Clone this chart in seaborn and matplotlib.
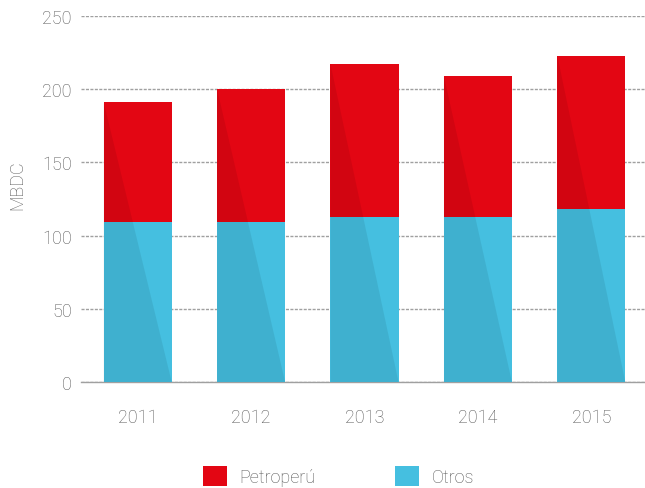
import matplotlib
matplotlib.use("Agg")
import matplotlib.pyplot as plt
import seaborn as sns
import pandas as pd
from matplotlib.patches import Patch, Polygon
from matplotlib.ticker import FixedLocator

years = ["2011", "2012", "2013", "2014", "2015"]
otros = [109, 109, 113, 113, 118]
petroperu = [82, 91, 104, 96, 105]
series_names = ["Petroperú", "Otros"]
y_ticks = [0, 50, 100, 150, 200, 250]

RED = "#E30613"
BLUE = "#45BFE0"
GRAY_TXT = "#565656"
GRAY_LN = "#a0a0a0"

sns.set_style("white")
plt.rcParams["font.family"] = ["Roboto", "DejaVu Sans"]
plt.rcParams["font.weight"] = "light"
plt.rcParams["axes.labelweight"] = "light"

totals = [o + p for o, p in zip(otros, petroperu)]
df = pd.DataFrame({"year": years, "otros": otros, "total": totals})

W, H = 645, 489
fig = plt.figure(figsize=(W / 100, H / 100), dpi=100)
ax = fig.add_axes([81 / W, (H - 383) / H, 567 / W, 366 / H])

sns.barplot(data=df, x="year", y="total", color=RED, saturation=1, width=0.6,
            ax=ax, zorder=2, edgecolor="none", linewidth=0)
n_total = len(ax.patches)
sns.barplot(data=df, x="year", y="otros", color=BLUE, saturation=1, width=0.6,
            ax=ax, zorder=3, edgecolor="none", linewidth=0)

# diagonal shading overlay across each full stacked bar
for p in list(ax.patches)[:n_total]:
    x0 = p.get_x()
    w = p.get_width()
    h = p.get_height()
    tri = Polygon([(x0, 0), (x0, h), (x0 + w, 0)], closed=True,
                  facecolor="black", alpha=0.075, edgecolor="none", zorder=4)
    ax.add_patch(tri)

ax.set_xlim(-0.5, 4.5)
ax.set_ylim(0, 250)
ax.set_yticks(y_ticks)
ax.set_yticklabels([str(t) for t in y_ticks])
ax.yaxis.grid(True, color=GRAY_LN, linestyle=(0, (2.2, 1.0)), linewidth=1.0, zorder=0)
ax.xaxis.grid(False)
ax.set_axisbelow(True)

for s in ["top", "right", "left"]:
    ax.spines[s].set_visible(False)
ax.spines["bottom"].set_color(GRAY_LN)
ax.spines["bottom"].set_linewidth(1.0)

ax.tick_params(axis="y", length=0, pad=6.5, labelsize=13, labelcolor=GRAY_TXT)
ax.tick_params(axis="x", which="major", length=0, pad=19, labelsize=13, labelcolor=GRAY_TXT)
ax.xaxis.set_minor_locator(FixedLocator([-0.5, 0.5, 1.5, 2.5, 3.5, 4.5]))
ax.tick_params(axis="x", which="minor", length=6, width=1.0, color=GRAY_LN, direction="out")

ax.set_xlabel("")
ax.set_ylabel("MBDC", fontsize=13, color=GRAY_TXT, fontweight="light")
ax.yaxis.set_label_coords(-0.097, 0.54)

handles = [Patch(facecolor=RED, edgecolor="none"), Patch(facecolor=BLUE, edgecolor="none")]
leg = fig.legend(handles, series_names, loc="center left",
                 bbox_to_anchor=(203 / W, (H - 477) / H), ncol=2, frameon=False,
                 fontsize=13, handlelength=1.33, handleheight=1.33,
                 handletextpad=0.7, columnspacing=4.4, borderaxespad=0, borderpad=0)
for t in leg.get_texts():
    t.set_color(GRAY_TXT)

fig.savefig("out.png", dpi=100)
